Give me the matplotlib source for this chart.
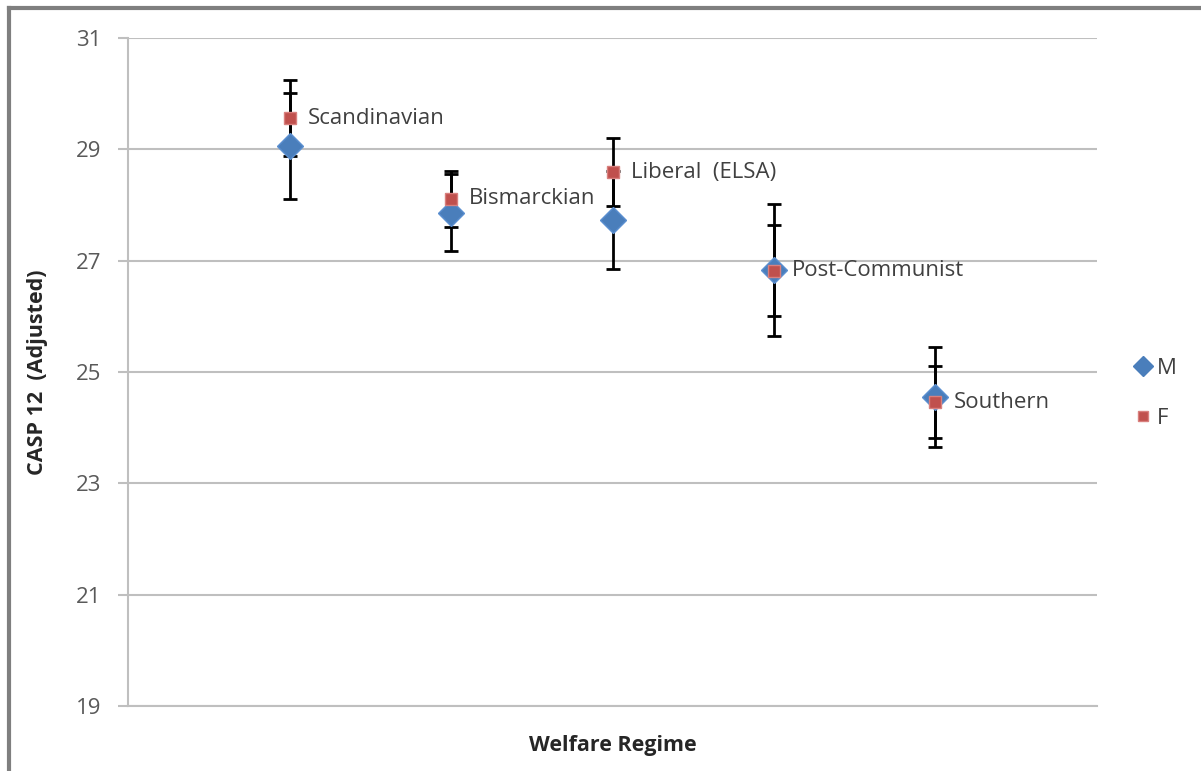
import matplotlib.pyplot as plt
from matplotlib.lines import Line2D

# regimes along the x axis, one point per regime for each sex
regimes = ["Scandinavian", "Bismarckian", "Liberal  (ELSA)", "Post-Communist", "Southern"]
x_pos = [1, 2, 3, 4, 5]

male = [29.06, 27.86, 27.73, 26.83, 24.55]
male_err = [0.95, 0.69, 0.88, 1.18, 0.90]
female = [29.56, 28.11, 28.59, 26.82, 24.46]
female_err = [0.68, 0.50, 0.61, 0.82, 0.64]

yticks = [19, 21, 23, 25, 27, 29, 31]

plt.rcParams["font.family"] = ["Open Sans", "DejaVu Sans"]

fig = plt.figure(figsize=(12.01, 7.71), dpi=100)
ax = fig.add_axes([0.1066, 0.0843, 0.8068, 0.8664])

ax.errorbar(x_pos, male, yerr=male_err, fmt="none", ecolor="black",
            elinewidth=2, capsize=5, capthick=2, zorder=2)
ax.errorbar(x_pos, female, yerr=female_err, fmt="none", ecolor="black",
            elinewidth=2, capsize=5, capthick=2, zorder=2)
ax.plot(x_pos, male, linestyle="none", marker="D", markersize=13,
        color="#4A7EBB", markeredgecolor="#5B8FD0", zorder=3)
ax.plot(x_pos, female, linestyle="none", marker="s", markersize=9,
        color="#C0504D", markeredgecolor="#D9807E", zorder=4)

for x, y, name in zip(x_pos, female, regimes):
    ax.annotate(name, (x, y), xytext=(13, 0), textcoords="offset points",
                va="center", ha="left", fontsize=16, color="#404040")

ax.set_xlim(0, 6)
ax.set_ylim(19, 31)
ax.set_yticks(yticks)
ax.set_xticks([])
ax.grid(axis="y", color="#BFBFBF", linewidth=1.5)
ax.set_axisbelow(True)
for side in ["top", "right"]:
    ax.spines[side].set_visible(False)
for side in ["left", "bottom"]:
    ax.spines[side].set_color("#BFBFBF")
    ax.spines[side].set_linewidth(1.5)
ax.tick_params(axis="y", length=7, width=1.5, color="#BFBFBF",
               labelsize=16, labelcolor="#595959", pad=12)

ax.set_ylabel("CASP 12  (Adjusted)", fontsize=15.5, fontweight="bold",
              color="#262626")
ax.yaxis.set_label_coords(-0.083, 0.5)
ax.set_xlabel("Welfare Regime", fontsize=15.5, fontweight="bold",
              color="#262626")
ax.xaxis.set_label_coords(0.5, -0.044)

handles = [
    Line2D([], [], linestyle="none", marker="D", markersize=10,
           color="#4A7EBB", label="M"),
    Line2D([], [], linestyle="none", marker="s", markersize=7,
           color="#C0504D", markeredgecolor="#D9807E", label="F"),
]
fig.legend(handles=handles, loc="center left", bbox_to_anchor=(0.926, 0.49),
           frameon=False, fontsize=16, handletextpad=0.1, labelspacing=1.3,
           labelcolor="#404040", handlelength=1.0)

# outer chart frame (top and left edges visible in the crop)
fig.add_artist(Line2D([0.0075, 0.0075], [0, 0.99], transform=fig.transFigure,
                      color="#7F7F7F", linewidth=3))
fig.add_artist(Line2D([0.0075, 1.0], [0.99, 0.99], transform=fig.transFigure,
                      color="#7F7F7F", linewidth=3))

fig.savefig("out.png", dpi=100)
